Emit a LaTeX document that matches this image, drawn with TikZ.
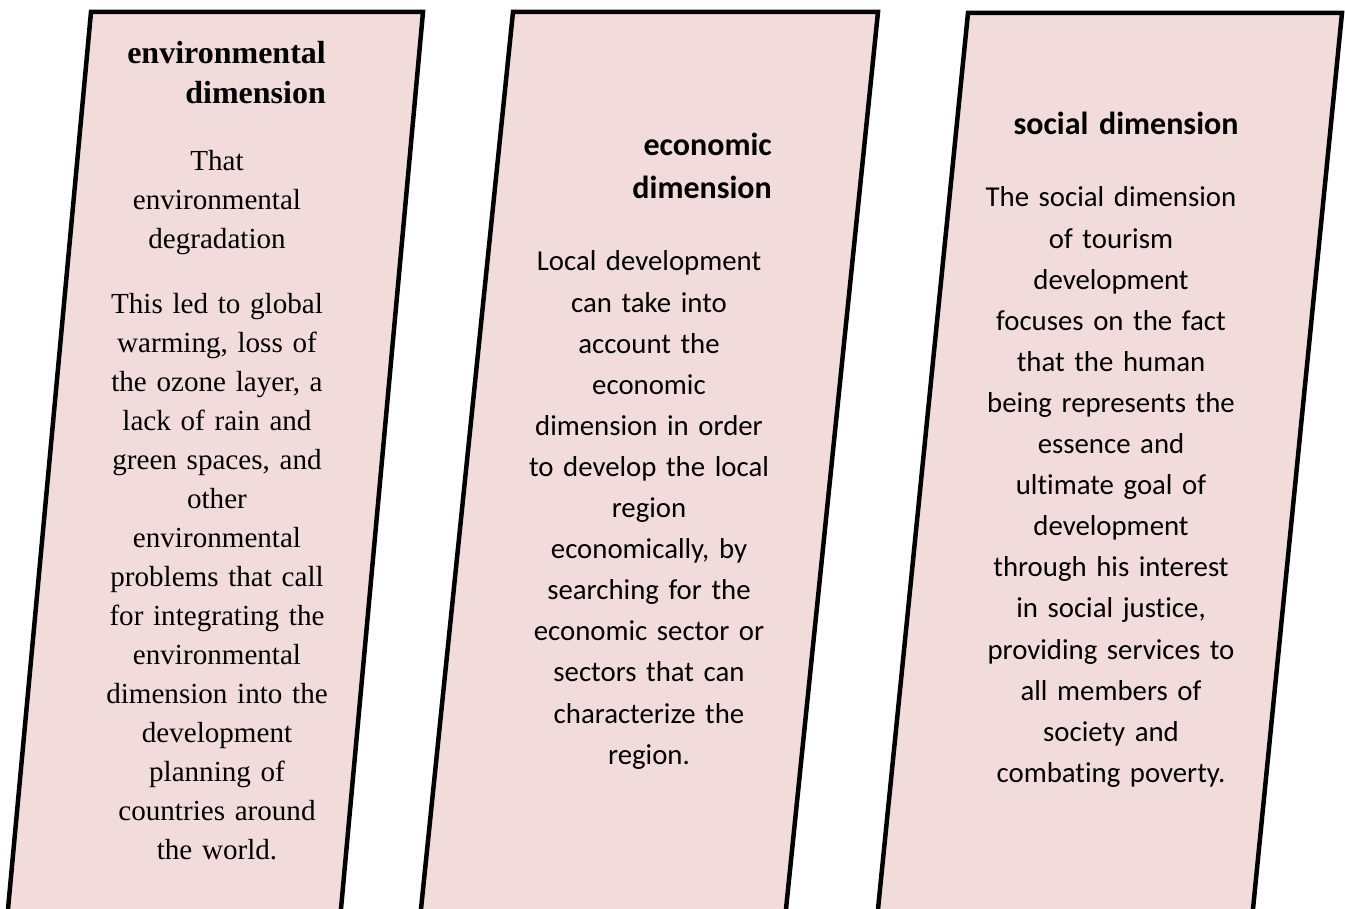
\documentclass[tikz,border=0pt]{standalone}
\usepackage{fontspec}
\setmainfont{Liberation Serif}
\newfontfamily\calibri[Ligatures=NoCommon]{Carlito}
\definecolor{panelpink}{HTML}{F2DCDB}
\tikzset{
  panel/.style={fill=panelpink, draw=black, line width=4.5pt, line join=miter},
  txt/.style={inner sep=0pt, text width=330pt},
  serifbody/.style={txt, font=\fontsize{29.1}{39}\selectfont, align=center, anchor=base},
  seriftitle/.style={txt, font=\fontsize{32}{40}\selectfont\bfseries, align=right, anchor=base east},
  sansbody/.style={txt, font=\calibri\fontsize{28.8}{41.1}\selectfont, align=center, anchor=base},
  sanstitle/.style={txt, font=\calibri\fontsize{32}{43}\selectfont\bfseries, align=right, anchor=base east},
  sanstitlec/.style={txt, font=\calibri\fontsize{32}{43}\selectfont\bfseries, align=center, anchor=base},
}
\begin{document}
\begin{tikzpicture}[x=1pt,y=-1pt]
\useasboundingbox (0,0) rectangle (1345,909);
\fill[white] (0,0) rectangle (1345,909);
\clip (0,0) rectangle (1345,909);
% panels
\path[panel] (6.06,930) -- (91,12) -- (423,12) -- (339.06,930);
\path[panel] (418.85,930) -- (513,12) -- (878,12) -- (783.85,930);
\path[panel] (875.9,930) -- (968,13) -- (1342,13) -- (1250.9,930);
% column 1
\node[seriftitle] (t1) at (326,64) {environmental\\dimension};
\node[serifbody] (b1) at (217,171) {That\\environmental\\degradation\\[26pt]This led to global\\warming, loss of\\the ozone layer, a\\lack of rain and\\green spaces, and\\other\\environmental\\problems that call\\for integrating the\\environmental\\dimension into the\\development\\planning of\\countries around\\the world.};
% column 2
\node[sanstitle] (t2) at (772,156) {economic\\dimension};
\node[sansbody] (b2) at (649,271) {Local development\\can take into\\account the\\economic\\dimension in order\\to develop the local\\region\\economically, by\\searching for the\\economic sector or\\sectors that can\\characterize the\\region.};
% column 3
\node[sanstitlec] (t3) at (1126,135) {social dimension};
\node[sansbody] (b3) at (1111,207) {The social dimension\\of tourism\\development\\focuses on the fact\\that the human\\being represents the\\essence and\\ultimate goal of\\development\\through his interest\\in social justice,\\providing services to\\all members of\\society and\\combating poverty.};
\end{tikzpicture}
\end{document}
